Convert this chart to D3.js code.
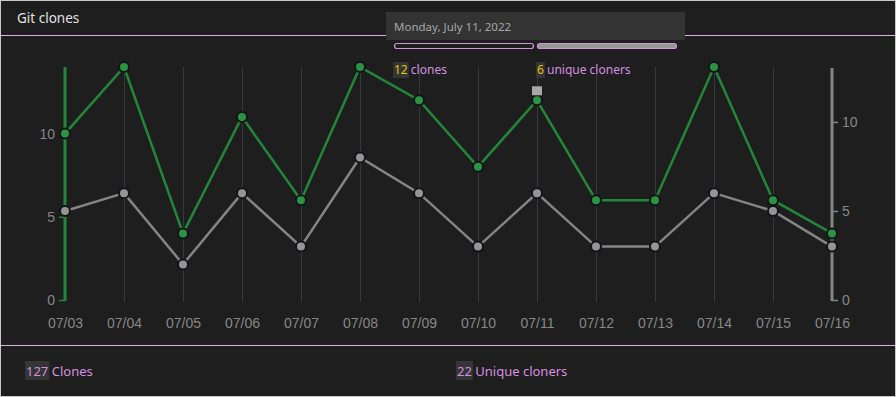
<!DOCTYPE html>
<html><head><meta charset="utf-8">
<script src="https://cdn.jsdelivr.net/npm/d3@7"></script>
<style>
html,body{margin:0;padding:0;background:#1e1e1e;}
svg{display:block;}
text{white-space:pre;}
</style></head>
<body>
<svg id="c" width="896" height="397"></svg>
<script>
const dates = ["07/03","07/04","07/05","07/06","07/07","07/08","07/09","07/10","07/11","07/12","07/13","07/14","07/15","07/16"];
const clones = [10,14,4,11,6,14,12,8,12,6,6,14,6,4];
const uniques = [5,6,2,6,3,8,6,3,6,3,3,6,5,3];
const leftTicks = [0,5,10];
const rightTicks = [0,5,10];
const hoverIndex = 8;
const hoverDate = "Monday, July 11, 2022";
const totalClones = 127;
const totalUniques = 22;

const svg = d3.select("#c");
const W = 896, H = 397;
const pink = "#d690e0";
const green = "#23873a";
const greenFill = "#2b9443";
const gray = "#858585";
const grayFill = "#959595";
const dark = "#121418";
const axisFont = "'Liberation Sans', Arial, sans-serif";
const uiFont = "'Noto Sans', 'Open Sans', sans-serif";

svg.append("rect").attr("x",0.5).attr("y",0.5).attr("width",W-1).attr("height",H-1)
  .attr("fill","#1e1e1e").attr("stroke","#c8c8c8");

// header
svg.append("text").attr("x",17).attr("y",23).attr("fill","#e2e2e2")
  .attr("font-family",uiFont).attr("font-size",13.5).text("Git clones");
svg.append("line").attr("x1",1).attr("x2",W-1).attr("y1",35.5).attr("y2",35.5).attr("stroke","#dcaee4");
svg.append("line").attr("x1",1).attr("x2",W-1).attr("y1",345.5).attr("y2",345.5).attr("stroke","#dcaee4");

const x = d3.scalePoint().domain(dates).range([65,832]);
const yL = d3.scaleLinear().domain([0,14]).range([300,67]);
const yR = d3.scaleLinear().domain([0,13]).range([300,68.5]);

// grid
svg.append("g").selectAll("line").data(dates.slice(1,-1)).join("line")
  .attr("x1",d=>x(d)+0.5).attr("x2",d=>x(d)+0.5).attr("y1",67).attr("y2",302)
  .attr("stroke","#363a40").attr("stroke-width",1);

// left axis
const gL = svg.append("g").attr("transform","translate(65,0)")
  .call(d3.axisLeft(yL).tickValues(leftTicks).tickSize(6).tickPadding(4));
gL.select(".domain").remove();
gL.selectAll(".tick line").attr("stroke",green).attr("stroke-width",1.5);
gL.selectAll(".tick text").attr("fill","#878787").attr("font-family",axisFont).attr("font-size",14);
svg.append("line").attr("x1",65).attr("x2",65).attr("y1",67).attr("y2",301)
  .attr("stroke",green).attr("stroke-width",3);

// right axis
const gR = svg.append("g").attr("transform","translate(832,0)")
  .call(d3.axisRight(yR).tickValues(rightTicks).tickSize(6).tickPadding(4));
gR.select(".domain").remove();
gR.selectAll(".tick line").attr("stroke",gray).attr("stroke-width",1.5);
gR.selectAll(".tick text").attr("fill","#878787").attr("font-family",axisFont).attr("font-size",14);
svg.append("line").attr("x1",832).attr("x2",832).attr("y1",68).attr("y2",301)
  .attr("stroke",gray).attr("stroke-width",3);

// x axis labels
const gX = svg.append("g").attr("transform","translate(0,310)")
  .call(d3.axisBottom(x).tickSize(0).tickPadding(8));
gX.select(".domain").remove();
gX.selectAll(".tick text").attr("fill","#878787").attr("font-family",axisFont).attr("font-size",14);

// lines
svg.append("path").datum(uniques)
  .attr("d", d3.line().x((d,i)=>x(dates[i])).y(d=>yR(d)))
  .attr("fill","none").attr("stroke",gray).attr("stroke-width",2.5);
svg.append("path").datum(clones)
  .attr("d", d3.line().x((d,i)=>x(dates[i])).y(d=>yL(d)))
  .attr("fill","none").attr("stroke",green).attr("stroke-width",2.5);

svg.append("g").selectAll("circle").data(uniques).join("circle")
  .attr("cx",(d,i)=>x(dates[i])).attr("cy",d=>yR(d)).attr("r",5)
  .attr("fill",grayFill).attr("stroke",dark).attr("stroke-width",2);
svg.append("g").selectAll("circle").data(clones).join("circle")
  .attr("cx",(d,i)=>x(dates[i])).attr("cy",d=>yL(d)).attr("r",5)
  .attr("fill",greenFill).attr("stroke",dark).attr("stroke-width",2);

// hover marker
const hx = x(dates[hoverIndex]);
svg.append("rect").attr("x",hx-5).attr("y",yL(clones[hoverIndex])-14).attr("width",10).attr("height",9)
  .attr("fill","#a8a8a8");

// tooltip
svg.append("rect").attr("x",386).attr("y",12).attr("width",299).attr("height",28).attr("fill","#333333");
svg.append("text").attr("x",394).attr("y",31).attr("fill","#a8a8a8")
  .attr("font-family",uiFont).attr("font-size",11.5).text(hoverDate);
svg.append("rect").attr("x",394.5).attr("y",43.5).attr("width",139).attr("height",5).attr("rx",2.5)
  .attr("fill","#1e1e1e").attr("stroke",pink).attr("stroke-width",1.2);
svg.append("rect").attr("x",537.5).attr("y",43.5).attr("width",139).attr("height",5).attr("rx",2.5)
  .attr("fill","#969696").attr("stroke",pink).attr("stroke-width",1.2);

function hl(xp, yb, num, label, numColor, fs, bgH){
  const g = svg.append("g");
  const bg = g.append("rect").attr("fill","#353535");
  const t = g.append("text").attr("x",xp).attr("y",yb).attr("font-family",uiFont).attr("font-size",fs);
  const n = t.append("tspan").attr("fill",numColor).text(num);
  t.append("tspan").attr("fill",pink).text("\u00a0" + label);
  const w = n.node().getComputedTextLength();
  bg.attr("x",xp-1).attr("y",yb-bgH[0]).attr("width",w+2).attr("height",bgH[1]);
}
hl(394, 74, String(clones[hoverIndex]), "clones", "#e5c400", 12, [12,16]);
hl(537, 74, String(uniques[hoverIndex]), "unique cloners", "#e5c400", 12, [12,16]);

hl(26, 376, String(totalClones), "Clones", pink, 13, [15,19]);
hl(457, 376, String(totalUniques), "Unique cloners", pink, 13, [15,19]);
</script>
</body></html>
